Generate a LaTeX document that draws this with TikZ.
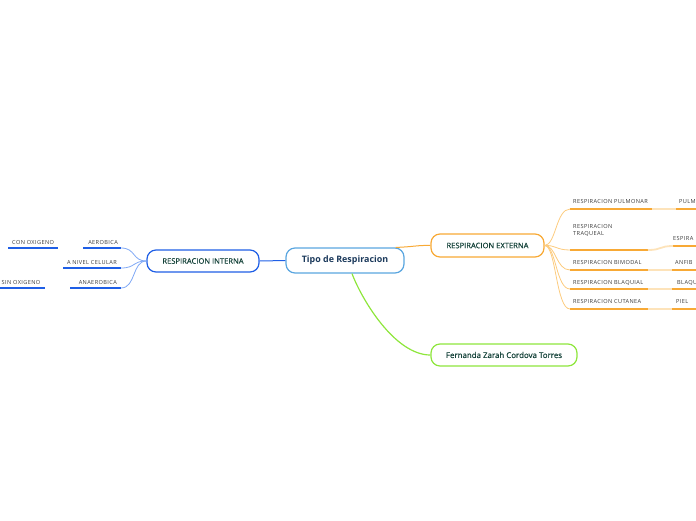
\documentclass[tikz,border=0pt]{standalone}
\usepackage{fontspec}
\setmainfont{Open Sans}
\newfontfamily\labfont[LetterSpace=7]{Open Sans}
\newfontfamily\boxfont[FakeBold=0.35]{Open Sans}
\definecolor{blueA}{HTML}{1F5FE6}
\definecolor{blueL}{HTML}{7FA8F5}
\definecolor{blueT}{HTML}{5AA6E0}
\definecolor{orA}{HTML}{F8A935}
\definecolor{orL}{HTML}{FDE3BA}
\definecolor{orC}{HTML}{FCCB7E}
\definecolor{grA}{HTML}{8EE63C}
\definecolor{txtG}{HTML}{15433A}
\definecolor{txtN}{HTML}{1C3A5C}
\definecolor{lbl}{HTML}{3A3A3A}
\tikzset{
  mainbox/.style={draw, line width=1.2pt, rounded corners=9pt, fill=white, inner sep=0pt, text=txtG, font=\boxfont\fontsize{7.6}{8}\selectfont},
  lab/.style={inner sep=0pt, text=lbl, font=\labfont\fontsize{5.6}{6.7}\selectfont},
  uline/.style={line width=1.8pt},
  conn/.style={line width=0.8pt}
}
\begin{document}
\begin{tikzpicture}[x=1pt,y=-1pt]
\useasboundingbox (0,0) rectangle (696,520);
\clip (0,0) rectangle (696,520);

% central node
\node[mainbox, draw=blueT, text=txtN, minimum width=118pt, minimum height=25pt, font=\fontsize{8.9}{10}\selectfont\bfseries] (tipo) at (345,260.5) {Tipo de Respiracion};
\node[mainbox, draw=blueA, minimum width=112pt, minimum height=22pt] (interna) at (203,261) {RESPIRACION INTERNA};
\node[mainbox, draw=orA, minimum width=113pt, minimum height=23pt] (externa) at (487.5,245.5) {RESPIRACION EXTERNA};
\node[mainbox, draw=grA, minimum width=146pt, minimum height=22pt, font=\boxfont\fontsize{7.9}{9}\selectfont] (fern) at (504,355) {Fernanda Zarah Cordova Torres};

% main connectors
\draw[blueA, line width=1pt] (interna.east) -- (tipo.west);
\draw[orA, line width=1pt] ([xshift=-9pt]tipo.north east) .. controls (412,247) and (418,245) .. (externa.west);
\draw[grA, line width=1.2pt] ([xshift=7pt]tipo.south) .. controls (362,300) and (395,355) .. (fern.west);

% left side labels
\node[lab, anchor=base east] (aero) at (118,244) {AEROBICA};
\node[lab, anchor=base west] (conox) at (12,244) {CON OXIGENO};
\node[lab, anchor=base east] (nivel) at (117,264) {A NIVEL CELULAR};
\node[lab, anchor=base east] (anaero) at (117,284) {ANAEROBICA};
\node[lab, anchor=base west] (sinox) at (1.5,284) {SIN OXIGENO};

\coordinate (aeroL) at (83,248); \coordinate (aeroR) at (121,248);
\coordinate (conoxL) at (8,248); \coordinate (conoxR) at (58,248);
\coordinate (nivelL) at (63,268); \coordinate (nivelR) at (121,268);
\coordinate (anaeroL) at (70,288); \coordinate (anaeroR) at (121,288);
\coordinate (sinoxL) at (-2,288); \coordinate (sinoxR) at (45,288);

\foreach \n in {aero,conox,nivel,anaero,sinox}
  \draw[blueA, uline] (\n L) -- (\n R);

\foreach \n in {aero,nivel,anaero}
  \draw[blueL, conn] (\n R) .. controls (136,0|-\n R) and (132,261) .. (interna.west);

% right side labels
\node[lab, anchor=base west] (pulm) at (573,203.5) {RESPIRACION PULMONAR};
\node[lab, anchor=base west, align=left] (traq) at (573,235.5) {RESPIRACION\\TRAQUEAL};
\node[lab, anchor=base west] (bimo) at (573,264.5) {RESPIRACION BIMODAL};
\node[lab, anchor=base west] (blaq) at (573,284) {RESPIRACION BLAQUIAL};
\node[lab, anchor=base west] (cuta) at (573,303.5) {RESPIRACION CUTANEA};

\node[lab, anchor=base west] (pulmB) at (679,203.5) {PULM};
\node[lab, anchor=base west] (traqB) at (673,240) {ESPIRA};
\node[lab, anchor=base west] (bimoB) at (675,264.5) {ANFIB};
\node[lab, anchor=base west] (blaqB) at (677,284) {BLAQU};
\node[lab, anchor=base west] (cutaB) at (676,303.5) {PIEL};

\coordinate (pulmL) at (570,209); \coordinate (pulmR) at (652,209);
\coordinate (traqL) at (570,250); \coordinate (traqR) at (648,250);
\coordinate (bimoL) at (570,270); \coordinate (bimoR) at (648,270);
\coordinate (blaqL) at (570,289); \coordinate (blaqR) at (648,289);
\coordinate (cutaL) at (570,309); \coordinate (cutaR) at (648,309);

\coordinate (pulmS) at (676,209); \coordinate (pulmE) at (700,209);
\coordinate (traqS) at (673,246); \coordinate (traqE) at (700,246);
\coordinate (bimoS) at (672,270); \coordinate (bimoE) at (700,270);
\coordinate (blaqS) at (672,289); \coordinate (blaqE) at (700,289);
\coordinate (cutaS) at (672,309); \coordinate (cutaE) at (700,309);

\foreach \n in {pulm,traq,bimo,blaq,cuta}{
  \draw[orA, uline] (\n L) -- (\n R);
  \draw[orA, uline] (\n S) -- (\n E);
  \draw[orC, conn] (externa.east) .. controls (556,245) and (556,0|-\n L) .. (\n L);
}
\foreach \n in {pulm,bimo,blaq,cuta}
  \draw[orL, uline] (\n R) -- (\n S);
\draw[orL, uline] (traqR) .. controls (662,250) and (659,246) .. (traqS);
\end{tikzpicture}
\end{document}
